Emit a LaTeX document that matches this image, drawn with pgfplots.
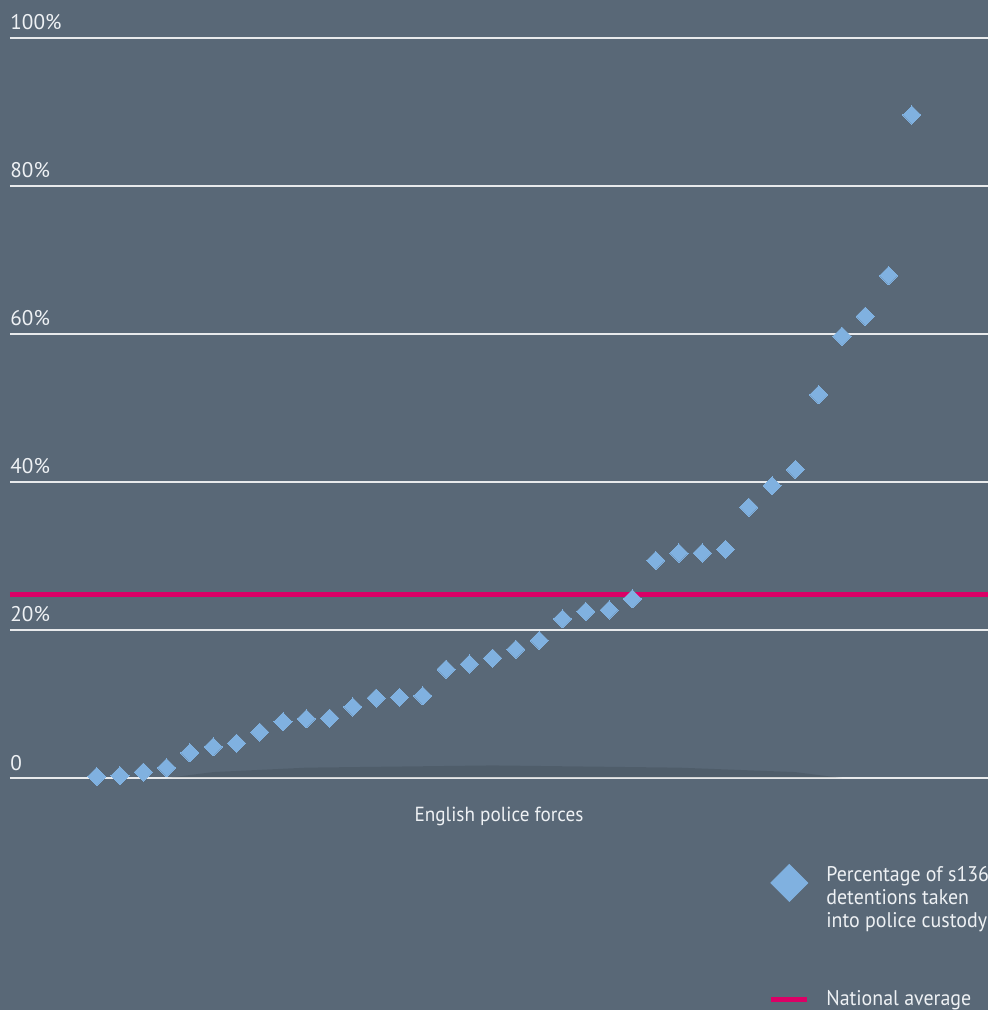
\documentclass[border=0pt]{standalone}
\usepackage{pgfplots}
\pgfplotsset{compat=1.18}
\usepackage{fontspec}
\setmainfont{PT Sans}
\newfontfamily\narrow[FakeStretch=0.94]{PT Sans}
\definecolor{bgc}{RGB}{89,104,119}
\definecolor{pt}{RGB}{128,177,224}
\definecolor{avg}{RGB}{219,0,102}
\definecolor{txt}{RGB}{238,241,244}
\definecolor{gridc}{RGB}{232,234,236}

\pgfplotstableread{
x y
1 0.2
2 0.3
3 0.8
4 1.4
5 3.4
6 4.2
7 4.7
8 6.2
9 7.6
10 8.0
11 8.1
12 9.6
13 10.8
14 10.9
15 11.1
16 14.7
17 15.4
18 16.2
19 17.4
20 18.6
21 21.5
22 22.5
23 22.7
24 24.2
25 29.4
26 30.4
27 30.4
28 30.9
29 36.6
30 39.5
31 41.7
32 51.8
33 59.7
34 62.4
35 67.9
36 89.6
}\forces

\begin{document}
\begin{tikzpicture}
\fill[bgc] (-5pt,-116pt) rectangle (489pt,389pt);
\begin{axis}[
    at={(0,0)}, anchor=south west,
    scale only axis,
    width=489pt, height=370pt,
    xmin=-2.723, xmax=39.27,
    ymin=0, ymax=100,
    axis line style={draw=none},
    tick style={draw=none},
    xtick=\empty,
    ytick={0,20,40,60,80,100},
    yticklabels={0,20\%,40\%,60\%,80\%,100\%},
    yticklabel style={anchor=base west, inner sep=0pt, yshift=4pt, text=txt,
        font=\fontsize{10.6}{12}\selectfont},
    ymajorgrids,
    grid style={gridc, line width=0.65pt},
    xlabel={English police forces},
    xlabel style={at={(axis description cs:0.5,0)}, anchor=base, yshift=-21.5pt,
        inner sep=0pt, text=txt, font=\narrow\fontsize{10.2}{12}\selectfont},
    legend cell align=left,
    legend style={at={(axis description cs:0.775,-0.1135)}, anchor=north west,
        draw=none, fill=none, inner sep=0pt, text=txt,
        font=\narrow\fontsize{10.6}{11.5}\selectfont,
        cells={align=left, inner sep=0pt},
        column sep=6.5pt, row sep=26pt},
]
\addplot[draw=none, fill=black, fill opacity=0.1, forget plot]
    coordinates {(4,0) (6,0.8) (10,1.4) (18,1.7) (26,1.4) (31,0.8) (33,0)} \closedcycle;
\addplot[only marks, color=pt, mark=square*, mark size=3.2pt, mark options={rotate=45, fill=pt, draw=pt, line width=0pt},
    legend image code/.code={\path[fill=pt] (9.25pt,17pt) -- (18.5pt,7.75pt) -- (9.25pt,-1.5pt) -- (0pt,7.75pt) -- cycle;}]
    table[x=x, y=y] {\forces};
\addlegendentry{Percentage of s136\\detentions taken\\into police custody}
\addplot[avg, line width=2.5pt,
    legend image code/.code={\draw[avg, line width=2.5pt] (0pt,0pt) -- (18pt,0pt);}]
    coordinates {(-2.723,24.8) (39.27,24.8)};
\addlegendentry{National average}
\end{axis}
\pgfresetboundingbox
\path[use as bounding box] (-5pt,-116pt) rectangle (489pt,389pt);
\end{tikzpicture}
\end{document}
